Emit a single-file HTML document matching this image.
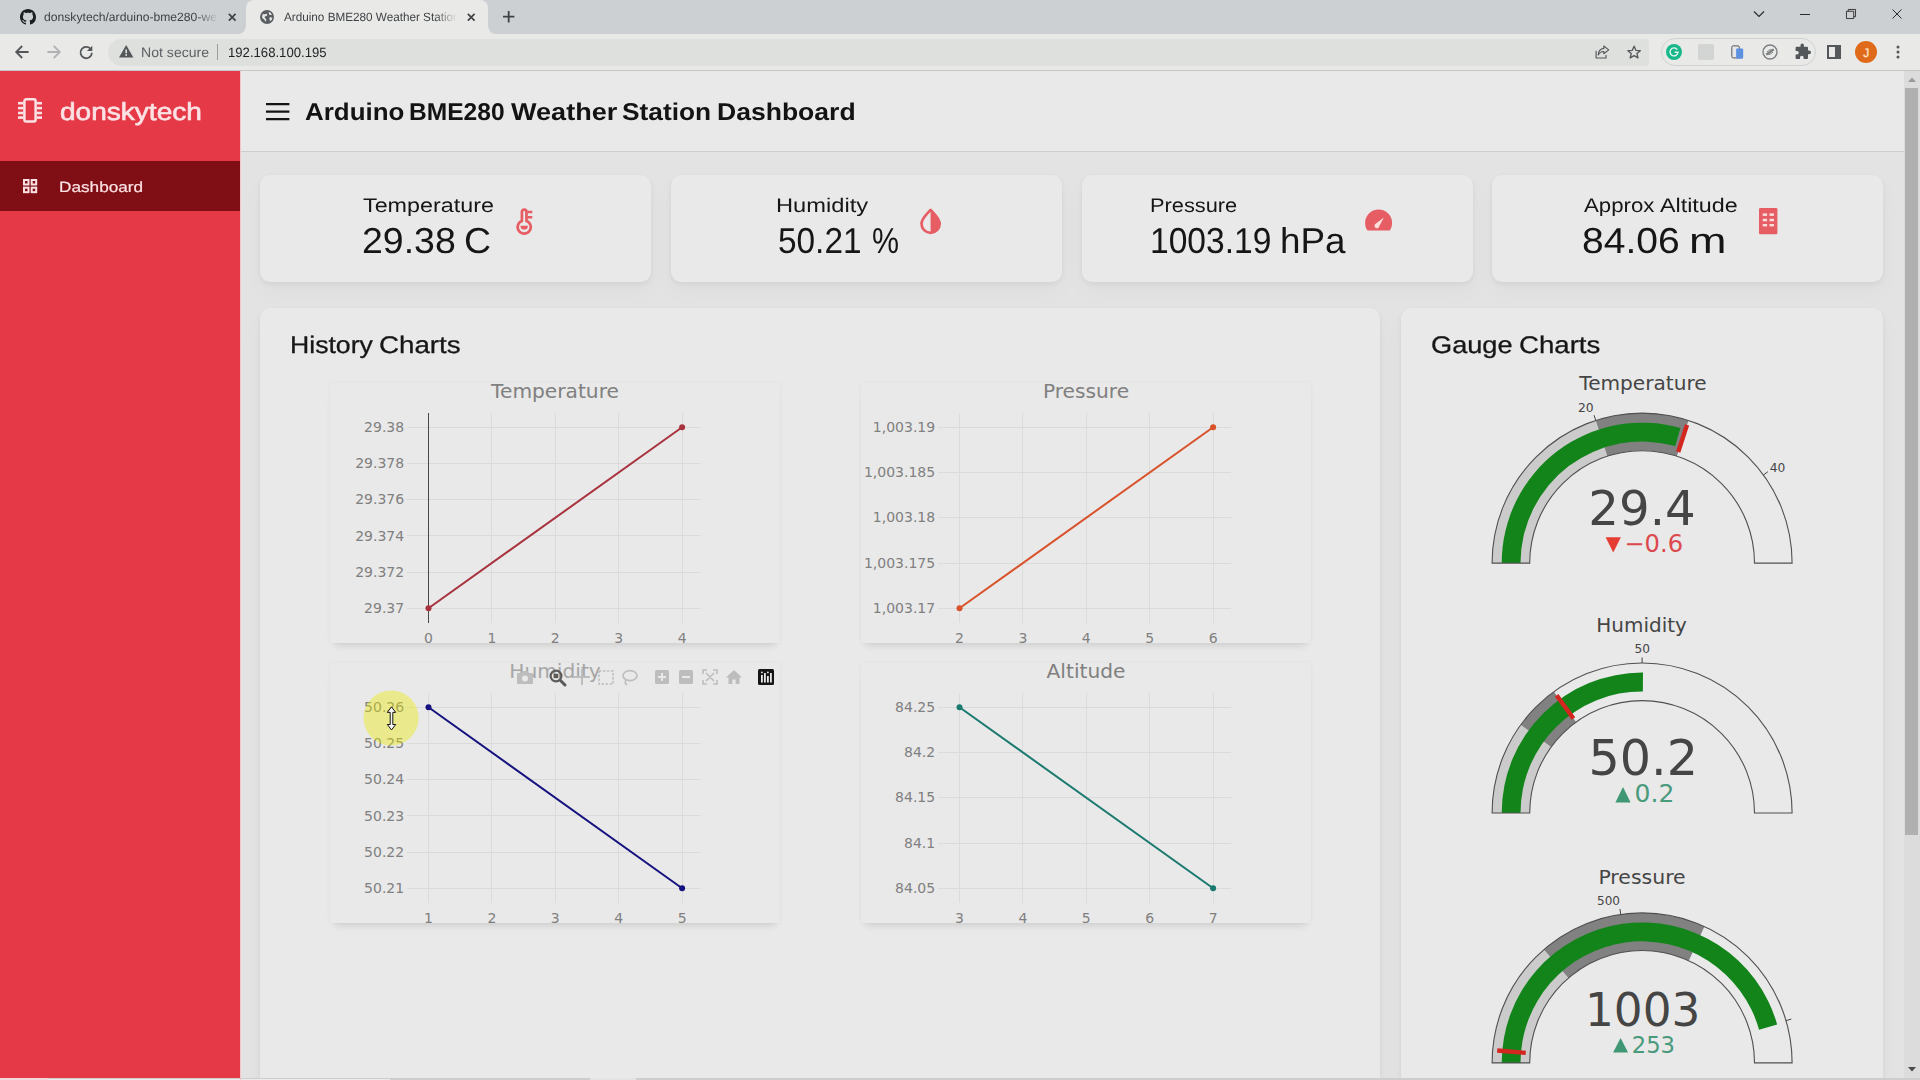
<!DOCTYPE html>
<html lang="en">
<head>
<meta charset="utf-8">
<title>Arduino BME280 Weather Station Dashboard</title>
<style>

*{box-sizing:border-box;margin:0;padding:0}
html,body{width:1920px;height:1080px;overflow:hidden;background:#e3e3e3;font-family:"Liberation Sans",Arial,sans-serif}
.t{position:absolute;white-space:nowrap;transform-origin:0 50%;display:block;font-weight:400}
svg{position:absolute;overflow:visible}
.card,.panel{position:absolute;background:#e9e9e9;border-radius:10px;box-shadow:0 2px 5px rgba(0,0,0,.06),0 10px 24px rgba(0,0,0,.028)}
.chart{position:absolute;background:#e9e9e9;box-shadow:0 7px 8px -5px rgba(0,0,0,.12),0 0 4px rgba(0,0,0,.04)}
svg text{font-family:"DejaVu Sans",Verdana,sans-serif}

</style>
</head>
<body>
<header id="browser-chrome"><div style="position:absolute;left:0px;top:0px;width:1920px;height:34px;background:#cdd0d3"></div>
<div style="position:absolute;left:246px;top:0px;width:242px;height:34px;background:#e9eae8;border-radius:8px 8px 0 0"></div>
<svg style="left:238px;top:26px" width="8" height="8"><path d="M8 0 V8 H0 A8 8 0 0 0 8 0Z" fill="#e9eae8"/></svg>
<svg style="left:488px;top:26px" width="8" height="8"><path d="M0 0 V8 H8 A8 8 0 0 1 0 0Z" fill="#e9eae8"/></svg>
<div style="position:absolute;left:0px;top:34px;width:1920px;height:36px;background:#e9eae8"></div>
<div style="position:absolute;left:0px;top:70px;width:1920px;height:1px;background:#c6c6c8"></div>
<svg style="left:20px;top:9px" width="16" height="16" viewBox="0 0 16 16"><path fill="#1b1f23" d="M8 0C3.58 0 0 3.58 0 8c0 3.54 2.29 6.53 5.47 7.59.4.07.55-.17.55-.38 0-.19-.01-.82-.01-1.49-2.01.37-2.53-.49-2.69-.94-.09-.23-.48-.94-.82-1.13-.28-.15-.68-.52-.01-.53.63-.01 1.08.58 1.23.82.72 1.21 1.87.87 2.33.66.07-.52.28-.87.51-1.07-1.78-.2-3.64-.89-3.64-3.95 0-.87.31-1.59.82-2.15-.08-.2-.36-1.02.08-2.12 0 0 .67-.21 2.2.82.64-.18 1.32-.27 2-.27s1.36.09 2 .27c1.53-1.04 2.2-.82 2.2-.82.44 1.1.16 1.92.08 2.12.51.56.82 1.27.82 2.15 0 3.07-1.87 3.75-3.65 3.95.29.25.54.73.54 1.48 0 1.07-.01 1.93-.01 2.2 0 .21.15.46.55.38A8.01 8.01 0 0 0 16 8c0-4.42-3.58-8-8-8z"/></svg>
<div style="position:absolute;left:44px;top:4px;width:178px;height:26px;overflow:hidden;-webkit-mask-image:linear-gradient(90deg,#000 152px,transparent 174px);mask-image:linear-gradient(90deg,#000 152px,transparent 174px)"><span class="t" style="left:-0.24px;top:5.00px;color:#3f4245;font-size:12px;line-height:16px;font-family:'Liberation Sans',Arial,sans-serif;font-weight:400;text-rendering:geometricPrecision;transform:scaleX(1.0129);">donskytech/arduino-bme280-weather-station</span></div>
<svg style="left:228px;top:13px" width="8.4" height="8.4" viewBox="0 0 10 10"><path d="M1 1 L9 9 M9 1 L1 9" stroke="#3f4245" stroke-width="2" fill="none"/></svg>
<svg style="left:260px;top:10px" width="14" height="14" viewBox="0 0 16 16"><circle cx="8" cy="8" r="8" fill="#5a5e62"/><path d="M3.2 4.2 Q5 5.5 6.6 4.6 Q8.4 3.8 8.2 6 Q7.4 7.2 5.6 7.4 Q4.6 8.8 6.2 9.6 Q7.6 10.4 7 12.6 Q6 13.6 5.4 11.6 Q4.4 10 3 9.6 Q1.8 8 3.2 4.2Z M10.2 2 Q12.6 3.4 13.6 5.4 Q11.6 6.4 10.6 5.2 Q9.6 3.6 10.2 2Z M11 8.4 Q13 8 14.2 9.4 Q13.4 11.8 11.6 12.8 Q10.4 10.4 11 8.4Z" fill="#e9eae8"/></svg>
<div style="position:absolute;left:283px;top:4px;width:178px;height:26px;overflow:hidden;-webkit-mask-image:linear-gradient(90deg,#000 152px,transparent 174px);mask-image:linear-gradient(90deg,#000 152px,transparent 174px)"><span class="t" style="left:0.50px;top:4.80px;color:#3f4245;font-size:12px;line-height:16px;font-family:'Liberation Sans',Arial,sans-serif;font-weight:400;text-rendering:geometricPrecision;transform:scaleX(0.9761);">Arduino BME280 Weather Station Dashboard</span></div>
<svg style="left:467px;top:13px" width="8.4" height="8.4" viewBox="0 0 10 10"><path d="M1 1 L9 9 M9 1 L1 9" stroke="#3f4245" stroke-width="2" fill="none"/></svg>
<svg style="left:503.4px;top:11.3px" width="11.4" height="11.4" viewBox="0 0 12 12"><path d="M6 0 V12 M0 6 H12" stroke="#3f4245" stroke-width="1.9" fill="none"/></svg>
<svg style="left:1753px;top:9px" width="12" height="10" viewBox="0 0 12 10"><path d="M1 2.5 L6 7.5 L11 2.5" stroke="#2b2b2b" stroke-width="1.2" fill="none"/></svg>
<svg style="left:1800px;top:14px" width="10" height="1"><rect width="10" height="1" fill="#2b2b2b"/></svg>
<svg style="left:1846px;top:9px" width="10" height="10" viewBox="0 0 11 11"><path d="M0.5 2.5 H8.5 V10.5 H0.5Z M2.5 2.5 V0.5 H10.5 V8.5 H8.5" stroke="#2b2b2b" stroke-width="1" fill="none"/></svg>
<svg style="left:1892px;top:9px" width="10" height="10" viewBox="0 0 11 11"><path d="M0.5 0.5 L10.5 10.5 M10.5 0.5 L0.5 10.5" stroke="#2b2b2b" stroke-width="1.1" fill="none"/></svg>
<svg style="left:15px;top:45px" width="14" height="14" viewBox="0 0 14 14"><path d="M13.6 7 H2 M7.2 1 L1.2 7 L7.2 13" stroke="#54575a" stroke-width="1.8" fill="none"/></svg>
<svg style="left:47px;top:45px" width="14" height="14" viewBox="0 0 14 14"><path d="M0.4 7 H12 M6.8 1 L12.8 7 L6.8 13" stroke="#b0b2b4" stroke-width="1.8" fill="none"/></svg>
<svg style="left:79px;top:44.6px" width="14.4" height="14.4" viewBox="0 0 16 16"><path d="M13.3 5 A6.3 6.3 0 1 0 14.3 8.6" stroke="#54575a" stroke-width="2" fill="none"/><path d="M14.8 0.8 V6.8 H8.8Z" fill="#54575a"/></svg>
<div style="position:absolute;left:108px;top:38.5px;width:1540.5px;height:27px;background:#dee0de;border-radius:13.5px 4px 4px 13.5px"></div>
<svg style="left:118.8px;top:45.4px" width="14.4" height="12.6" viewBox="0 0 16 14"><path d="M8 0 L16 14 H0Z" fill="#54575a"/><rect x="7.1" y="5" width="1.8" height="4.2" fill="#dee0de"/><rect x="7.1" y="10.2" width="1.8" height="1.9" fill="#dee0de"/></svg>
<span class="t" style="left:141.47px;top:43.60px;color:#5d6064;font-size:13.7px;line-height:18px;font-family:'Liberation Sans',Arial,sans-serif;font-weight:400;text-rendering:geometricPrecision;transform:scaleX(1.0294);">Not secure</span>
<div style="position:absolute;left:217px;top:44px;width:1px;height:16px;background:#9c9e9f"></div>
<span class="t" style="left:227.78px;top:43.60px;color:#222426;font-size:13.5px;line-height:18px;font-family:'Liberation Sans',Arial,sans-serif;font-weight:400;text-rendering:geometricPrecision;transform:scaleX(0.9725);">192.168.100.195</span>
<svg style="left:1594.8px;top:45.2px" width="15" height="14" viewBox="0 0 17 16"><path d="M1.2 6.5 V14.8 H12.5 V11.5" stroke="#54575a" stroke-width="1.3" fill="none"/><path d="M10 1.2 L15.6 5.6 L10 10 V7.4 Q6 7.2 3.6 11.4 Q4.2 4.6 10 3.9Z" stroke="#54575a" stroke-width="1.3" fill="none" stroke-linejoin="round"/></svg>
<svg style="left:1627px;top:44.8px" width="14.2" height="14.2" viewBox="0 0 16 16"><path d="M8 1.3 L10 6 L15 6.4 L11.2 9.7 L12.4 14.6 L8 12 L3.6 14.6 L4.8 9.7 L1 6.4 L6 6Z" stroke="#54575a" stroke-width="1.5" fill="none" stroke-linejoin="round"/></svg>
<div style="position:absolute;left:1661px;top:38px;width:155px;height:28px;border:1px solid #d0d2d2;border-radius:14px;background:#e9eae8"></div>
<svg style="left:1666px;top:44px" width="16" height="16" viewBox="0 0 16 16"><circle cx="8" cy="8" r="8" fill="#18b88a"/><path d="M11.3 5.6 A4 4 0 1 0 12 8.3 H8.6" stroke="#e9f6f1" stroke-width="1.4" fill="none"/></svg>
<div style="position:absolute;left:1698px;top:44px;width:16px;height:16px;background:#d3d4d4;border-radius:2px"></div>
<svg style="left:1731.4px;top:43.8px" width="13.2" height="16.6" viewBox="0 0 16 18"><rect x="1" y="1.2" width="9" height="14.6" rx="1.6" fill="#e4e6e8" stroke="#55585c" stroke-width="1.2"/><rect x="6.2" y="4.4" width="8.6" height="12.4" rx="1.4" fill="#5d90e0"/></svg>
<svg style="left:1762px;top:44px" width="16" height="16" viewBox="0 0 16 16"><circle cx="8" cy="8" r="7" stroke="#7b7e81" stroke-width="1.4" fill="none"/><path d="M4.2 10.6 L11.8 5.4" stroke="#7b7e81" stroke-width="2" /><path d="M5 8 Q8 4.4 11 6 M5 10 Q8 11.6 11 8" stroke="#7b7e81" stroke-width="1" fill="none"/></svg>
<svg style="left:1794px;top:44px" width="17" height="16" viewBox="0 0 17 16"><path d="M6.5 1.2 a1.7 1.7 0 0 1 3.4 0 V2.8 H13 a1 1 0 0 1 1 1 V6.6 h1.2 a1.8 1.8 0 0 1 0 3.6 H14 V14 a1 1 0 0 1 -1 1 H9.6 V13.6 a1.8 1.8 0 0 0 -3.6 0 V15 H2.6 a1 1 0 0 1 -1 -1 V10.6 H3 a1.8 1.8 0 0 0 0 -3.6 H1.6 V3.8 a1 1 0 0 1 1 -1 H6.5Z" fill="#54575a"/></svg>
<svg style="left:1827px;top:45px" width="14" height="14" viewBox="0 0 14 14"><rect x="1" y="1" width="12" height="12" stroke="#54575a" stroke-width="2" fill="none"/><rect x="8" y="1" width="5" height="12" fill="#54575a"/></svg>
<div style="position:absolute;left:1855px;top:41px;width:22px;height:22px;background:#df6b1a;border-radius:50%"><span class="t" style="left:8.22px;top:3.55px;color:#fbdcbc;font-size:12px;line-height:16px;font-family:'Liberation Sans',Arial,sans-serif;font-weight:400;text-rendering:geometricPrecision;-webkit-text-stroke:0.5px #fbdcbc;">J</span></div>
<svg style="left:1896px;top:45px" width="4" height="14" viewBox="0 0 4 14"><circle cx="2" cy="2" r="1.5" fill="#54575a"/><circle cx="2" cy="7" r="1.5" fill="#54575a"/><circle cx="2" cy="12" r="1.5" fill="#54575a"/></svg></header>
<aside id="sidebar"><div style="position:absolute;left:0px;top:71px;width:240px;height:1009px;background:#e53947"></div>
<div style="position:absolute;left:0px;top:161px;width:240px;height:50px;background:#800e15"></div>
<svg style="left:17.8px;top:98.2px" width="24" height="24.8" viewBox="0 0 24 24.8"><rect x="6.4" y="1.25" width="11.2" height="22.3" rx="1.8" stroke="#fbe2e4" stroke-width="2.5" fill="none"/><g fill="#fbe2e4"><rect x="0" y="3.9" width="5.4" height="2.6"/><rect x="0" y="8.8" width="5.4" height="2.6"/><rect x="0" y="13.7" width="5.4" height="2.6"/><rect x="0" y="18.3" width="5.4" height="2.6"/><rect x="18.6" y="3.9" width="5.4" height="2.6"/><rect x="18.6" y="8.8" width="5.4" height="2.6"/><rect x="18.6" y="13.7" width="5.4" height="2.6"/><rect x="18.6" y="18.3" width="5.4" height="2.6"/></g></svg>
<div class="t" style="left:59.65px;top:96.85px;color:#fbe2e4;font-size:24.6px;line-height:32px;font-family:'Liberation Sans',Arial,sans-serif;font-weight:400;text-rendering:geometricPrecision;-webkit-text-stroke:0.65px #fbe2e4;transform:scaleX(1.1404);">donskytech</div>
<svg style="left:22.9px;top:178.8px" width="14.2" height="14.2" viewBox="0 0 14.2 14.2"><g stroke="#fbe2e4" stroke-width="2" fill="none"><rect x="1" y="1" width="4.5" height="4.5"/><rect x="8.7" y="1" width="4.5" height="4.5"/><rect x="1" y="8.7" width="4.5" height="4.5"/><rect x="8.7" y="8.7" width="4.5" height="4.5"/></g></svg>
<div class="t" style="left:59.24px;top:178.10px;color:#fbe2e4;font-size:14.8px;line-height:20px;font-family:'Liberation Sans',Arial,sans-serif;font-weight:400;text-rendering:geometricPrecision;-webkit-text-stroke:0.2px #fbe2e4;transform:scaleX(1.1620);">Dashboard</div></aside>
<nav id="topbar"><div style="position:absolute;left:240px;top:71px;width:1664px;height:81px;background:#e9e9e9;border-bottom:1px solid #cdcdcd"></div>
<svg style="left:265.8px;top:103px" width="23.4" height="17.4" viewBox="0 0 23.4 17.4"><path d="M0 1.2 H23.4 M0 8.7 H23.4 M0 16.2 H23.4" stroke="#151515" stroke-width="2.3"/></svg>
<h1><span class="t" style="left:304.95px;top:97.20px;color:#131313;font-size:24.3px;line-height:32px;font-family:'Liberation Sans',Arial,sans-serif;font-weight:700;text-rendering:geometricPrecision;transform:scaleX(1.0678);">Arduino</span> <span class="t" style="left:409.15px;top:97.20px;color:#131313;font-size:24.3px;line-height:32px;font-family:'Liberation Sans',Arial,sans-serif;font-weight:700;text-rendering:geometricPrecision;transform:scaleX(1.0115);">BME280</span> <span class="t" style="left:510.80px;top:97.20px;color:#131313;font-size:24.3px;line-height:32px;font-family:'Liberation Sans',Arial,sans-serif;font-weight:700;text-rendering:geometricPrecision;transform:scaleX(1.1136);">Weather</span> <span class="t" style="left:622.29px;top:97.20px;color:#131313;font-size:24.3px;line-height:32px;font-family:'Liberation Sans',Arial,sans-serif;font-weight:700;text-rendering:geometricPrecision;transform:scaleX(1.0828);">Station</span> <span class="t" style="left:716.52px;top:97.20px;color:#131313;font-size:24.3px;line-height:32px;font-family:'Liberation Sans',Arial,sans-serif;font-weight:700;text-rendering:geometricPrecision;transform:scaleX(1.0925);">Dashboard</span></h1></nav>
<section id="cards"><div class="card" style="position:absolute;left:260px;top:175.4px;width:391px;height:106.5px;"></div>
<div class="card" style="position:absolute;left:671px;top:175.4px;width:391px;height:106.5px;"></div>
<div class="card" style="position:absolute;left:1082px;top:175.4px;width:391px;height:106.5px;"></div>
<div class="card" style="position:absolute;left:1492px;top:175.4px;width:391px;height:106.5px;"></div>
<span class="t" style="left:362.90px;top:192.80px;color:#161616;font-size:19.8px;line-height:26px;font-family:'Liberation Sans',Arial,sans-serif;font-weight:400;text-rendering:geometricPrecision;transform:scaleX(1.1784);">Temperature</span>
<span class="t" style="left:361.51px;top:216.90px;color:#161616;font-size:36px;line-height:47px;font-family:'Liberation Sans',Arial,sans-serif;font-weight:400;text-rendering:geometricPrecision;transform:scaleX(1.0409);">29.38</span><span class="t" style="left:464.38px;top:216.90px;color:#161616;font-size:36px;line-height:47px;font-family:'Liberation Sans',Arial,sans-serif;font-weight:400;text-rendering:geometricPrecision;transform:scaleX(1.0418);">C</span>
<svg style="left:515.8px;top:207.8px" width="17" height="26.2" viewBox="0 0 17 26.2"><path d="M5.9 12.9 V3.85 a2.3 2.3 0 0 1 4.6 0 V12.9 a6.55 6.55 0 1 1 -4.6 0Z" stroke="#e65d64" stroke-width="2.7" fill="none"/><path d="M4.5 17.7 a3.7 3.9 0 0 0 7.4 0Z" fill="#e65d64"/><path d="M11.4 4.05 H16.3 M11.4 9.2 H16.3" stroke="#e65d64" stroke-width="2.5"/></svg>
<span class="t" style="left:775.95px;top:192.80px;color:#161616;font-size:19.8px;line-height:26px;font-family:'Liberation Sans',Arial,sans-serif;font-weight:400;text-rendering:geometricPrecision;transform:scaleX(1.1972);">Humidity</span>
<span class="t" style="left:777.78px;top:216.90px;color:#161616;font-size:36px;line-height:47px;font-family:'Liberation Sans',Arial,sans-serif;font-weight:400;text-rendering:geometricPrecision;transform:scaleX(0.9270);">50.21</span><span class="t" style="left:872.06px;top:216.90px;color:#161616;font-size:36px;line-height:47px;font-family:'Liberation Sans',Arial,sans-serif;font-weight:400;text-rendering:geometricPrecision;transform:scaleX(0.8433);">%</span>
<svg style="left:919.9px;top:207.8px" width="21.4" height="26.2" viewBox="0 0 21.4 26.2"><path d="M10.6 1.9 C 7.6 5.2, 1.5 10.6, 1.5 15.6 A 9.1 9.2 0 0 0 19.7 15.6 C 19.7 10.6, 13.6 5.2, 10.6 1.9Z" stroke="#e65d64" stroke-width="2.7" fill="none" stroke-linejoin="round"/><path d="M10.6 1.9 C 13.6 5.2, 19.7 10.6, 19.7 15.6 A 9.1 9.2 0 0 1 10.6 24.8Z" fill="#e65d64"/></svg>
<span class="t" style="left:1150.11px;top:192.80px;color:#161616;font-size:19.8px;line-height:26px;font-family:'Liberation Sans',Arial,sans-serif;font-weight:400;text-rendering:geometricPrecision;transform:scaleX(1.1019);">Pressure</span>
<span class="t" style="left:1149.64px;top:216.90px;color:#161616;font-size:36px;line-height:47px;font-family:'Liberation Sans',Arial,sans-serif;font-weight:400;text-rendering:geometricPrecision;transform:scaleX(0.9328);">1003.19</span><span class="t" style="left:1280.33px;top:216.90px;color:#161616;font-size:36px;line-height:47px;font-family:'Liberation Sans',Arial,sans-serif;font-weight:400;text-rendering:geometricPrecision;transform:scaleX(1.0227);">hPa</span>
<svg style="left:1364.8px;top:210px" width="27.2" height="20.4" viewBox="0 0 27.2 20.4"><path d="M2.2 20.3 A13.5 13.5 0 1 1 25 20.3 a1.4 1.4 0 0 1 -1 0.1 H3.2 a1.4 1.4 0 0 1 -1 -0.1Z" fill="#e65d64"/><path d="M18.9 7.6 L14.3 16.2 A2.4 2.4 0 1 1 11 13.6Z" fill="#fbdedc"/></svg>
<span class="t" style="left:1583.50px;top:192.80px;color:#161616;font-size:19.8px;line-height:26px;font-family:'Liberation Sans',Arial,sans-serif;font-weight:400;text-rendering:geometricPrecision;transform:scaleX(1.1237);">Approx</span><span class="t" style="left:1660.00px;top:192.80px;color:#161616;font-size:19.8px;line-height:26px;font-family:'Liberation Sans',Arial,sans-serif;font-weight:400;text-rendering:geometricPrecision;transform:scaleX(1.1773);">Altitude</span>
<span class="t" style="left:1582.43px;top:216.90px;color:#161616;font-size:36px;line-height:47px;font-family:'Liberation Sans',Arial,sans-serif;font-weight:400;text-rendering:geometricPrecision;transform:scaleX(1.0849);">84.06</span><span class="t" style="left:1689.40px;top:216.90px;color:#161616;font-size:36px;line-height:47px;font-family:'Liberation Sans',Arial,sans-serif;font-weight:400;text-rendering:geometricPrecision;transform:scaleX(1.2500);">m</span>
<svg style="left:1758.6px;top:207.8px" width="18.4" height="26.2" viewBox="0 0 18.4 26.2"><rect x="0" y="0" width="18.4" height="26.2" rx="1.2" fill="#e65d64"/><g fill="#fbdedc"><rect x="3.7" y="5.4" width="4.4" height="2.5"/><rect x="10.5" y="5.4" width="4.5" height="2.5"/><rect x="3.7" y="10.8" width="4.4" height="2.5"/><rect x="10.5" y="10.8" width="4.5" height="2.5"/><rect x="3.7" y="16" width="4.4" height="2.4"/><rect x="10.5" y="16" width="4.5" height="2.4"/></g></svg></section>
<section id="history"><div class="panel" style="position:absolute;left:260px;top:307.8px;width:1120px;height:800px;"></div>
<h2><span class="t" style="left:289.52px;top:330.35px;color:#161616;font-size:24px;line-height:32px;font-family:'Liberation Sans',Arial,sans-serif;font-weight:400;text-rendering:geometricPrecision;-webkit-text-stroke:0.3px #161616;transform:scaleX(1.1091);">History</span> <span class="t" style="left:379.34px;top:330.35px;color:#161616;font-size:24px;line-height:32px;font-family:'Liberation Sans',Arial,sans-serif;font-weight:400;text-rendering:geometricPrecision;-webkit-text-stroke:0.3px #161616;transform:scaleX(1.1551);">Charts</span></h2>
<div class="chart" id="chart-temperature" style="left:330px;top:383px;width:450px;height:260px">
<svg width="450" height="260" viewBox="0 0 450 260" style="left:0;top:0">
<path d="M161.50 30 V240" stroke="#dbdbdb" stroke-width="1" fill="none" shape-rendering="crispEdges"/>
<path d="M225.50 30 V240" stroke="#dbdbdb" stroke-width="1" fill="none" shape-rendering="crispEdges"/>
<path d="M288.50 30 V240" stroke="#dbdbdb" stroke-width="1" fill="none" shape-rendering="crispEdges"/>
<path d="M352.50 30 V240" stroke="#dbdbdb" stroke-width="1" fill="none" shape-rendering="crispEdges"/>
<path d="M77 44.50 H370" stroke="#dbdbdb" stroke-width="1" fill="none" shape-rendering="crispEdges"/>
<path d="M77 80.50 H370" stroke="#dbdbdb" stroke-width="1" fill="none" shape-rendering="crispEdges"/>
<path d="M77 116.50 H370" stroke="#dbdbdb" stroke-width="1" fill="none" shape-rendering="crispEdges"/>
<path d="M77 152.50 H370" stroke="#dbdbdb" stroke-width="1" fill="none" shape-rendering="crispEdges"/>
<path d="M77 189.50 H370" stroke="#dbdbdb" stroke-width="1" fill="none" shape-rendering="crispEdges"/>
<path d="M77 225.50 H370" stroke="#dbdbdb" stroke-width="1" fill="none" shape-rendering="crispEdges"/>
<path d="M98.50 30 V240" stroke="#484848" stroke-width="1" fill="none" shape-rendering="crispEdges"/>
<path d="M98.50 225.30 L352.10 44.20" stroke="#a8323e" stroke-width="2" fill="none"/>
<circle cx="98.50" cy="225.30" r="3" fill="#a8323e"/>
<circle cx="352.10" cy="44.20" r="3" fill="#a8323e"/>
<text x="98.50" y="259.6" font-size="14" fill="#808080" text-anchor="middle">0</text>
<text x="161.90" y="259.6" font-size="14" fill="#808080" text-anchor="middle">1</text>
<text x="225.30" y="259.6" font-size="14" fill="#808080" text-anchor="middle">2</text>
<text x="288.70" y="259.6" font-size="14" fill="#808080" text-anchor="middle">3</text>
<text x="352.10" y="259.6" font-size="14" fill="#808080" text-anchor="middle">4</text>
<text x="74.2" y="48.90" font-size="14" fill="#808080" text-anchor="end">29.38</text>
<text x="74.2" y="85.12" font-size="14" fill="#808080" text-anchor="end">29.378</text>
<text x="74.2" y="121.34" font-size="14" fill="#808080" text-anchor="end">29.376</text>
<text x="74.2" y="157.56" font-size="14" fill="#808080" text-anchor="end">29.374</text>
<text x="74.2" y="193.78" font-size="14" fill="#808080" text-anchor="end">29.372</text>
<text x="74.2" y="230.00" font-size="14" fill="#808080" text-anchor="end">29.37</text>
<text x="225" y="14.7" font-size="20.2" fill="#808080" text-anchor="middle">Temperature</text>
</svg></div>
<div class="chart" id="chart-pressure" style="left:861px;top:383px;width:450px;height:260px">
<svg width="450" height="260" viewBox="0 0 450 260" style="left:0;top:0">
<path d="M98.50 30 V240" stroke="#dbdbdb" stroke-width="1" fill="none" shape-rendering="crispEdges"/>
<path d="M161.50 30 V240" stroke="#dbdbdb" stroke-width="1" fill="none" shape-rendering="crispEdges"/>
<path d="M225.50 30 V240" stroke="#dbdbdb" stroke-width="1" fill="none" shape-rendering="crispEdges"/>
<path d="M288.50 30 V240" stroke="#dbdbdb" stroke-width="1" fill="none" shape-rendering="crispEdges"/>
<path d="M352.50 30 V240" stroke="#dbdbdb" stroke-width="1" fill="none" shape-rendering="crispEdges"/>
<path d="M77 44.50 H370" stroke="#dbdbdb" stroke-width="1" fill="none" shape-rendering="crispEdges"/>
<path d="M77 89.50 H370" stroke="#dbdbdb" stroke-width="1" fill="none" shape-rendering="crispEdges"/>
<path d="M77 134.50 H370" stroke="#dbdbdb" stroke-width="1" fill="none" shape-rendering="crispEdges"/>
<path d="M77 180.50 H370" stroke="#dbdbdb" stroke-width="1" fill="none" shape-rendering="crispEdges"/>
<path d="M77 225.50 H370" stroke="#dbdbdb" stroke-width="1" fill="none" shape-rendering="crispEdges"/>
<path d="M98.50 225.30 L352.10 44.20" stroke="#d8522a" stroke-width="2" fill="none"/>
<circle cx="98.50" cy="225.30" r="3" fill="#d8522a"/>
<circle cx="352.10" cy="44.20" r="3" fill="#d8522a"/>
<text x="98.50" y="259.6" font-size="14" fill="#808080" text-anchor="middle">2</text>
<text x="161.90" y="259.6" font-size="14" fill="#808080" text-anchor="middle">3</text>
<text x="225.30" y="259.6" font-size="14" fill="#808080" text-anchor="middle">4</text>
<text x="288.70" y="259.6" font-size="14" fill="#808080" text-anchor="middle">5</text>
<text x="352.10" y="259.6" font-size="14" fill="#808080" text-anchor="middle">6</text>
<text x="74.2" y="48.90" font-size="14" fill="#808080" text-anchor="end">1,003.19</text>
<text x="74.2" y="94.18" font-size="14" fill="#808080" text-anchor="end">1,003.185</text>
<text x="74.2" y="139.45" font-size="14" fill="#808080" text-anchor="end">1,003.18</text>
<text x="74.2" y="184.73" font-size="14" fill="#808080" text-anchor="end">1,003.175</text>
<text x="74.2" y="230.00" font-size="14" fill="#808080" text-anchor="end">1,003.17</text>
<text x="225" y="14.7" font-size="20.2" fill="#808080" text-anchor="middle">Pressure</text>
</svg></div>
<div class="chart" id="chart-humidity" style="left:330px;top:663px;width:450px;height:260px">
<svg width="450" height="260" viewBox="0 0 450 260" style="left:0;top:0">
<path d="M98.50 30 V240" stroke="#dbdbdb" stroke-width="1" fill="none" shape-rendering="crispEdges"/>
<path d="M161.50 30 V240" stroke="#dbdbdb" stroke-width="1" fill="none" shape-rendering="crispEdges"/>
<path d="M225.50 30 V240" stroke="#dbdbdb" stroke-width="1" fill="none" shape-rendering="crispEdges"/>
<path d="M288.50 30 V240" stroke="#dbdbdb" stroke-width="1" fill="none" shape-rendering="crispEdges"/>
<path d="M352.50 30 V240" stroke="#dbdbdb" stroke-width="1" fill="none" shape-rendering="crispEdges"/>
<path d="M77 44.50 H370" stroke="#dbdbdb" stroke-width="1" fill="none" shape-rendering="crispEdges"/>
<path d="M77 80.50 H370" stroke="#dbdbdb" stroke-width="1" fill="none" shape-rendering="crispEdges"/>
<path d="M77 116.50 H370" stroke="#dbdbdb" stroke-width="1" fill="none" shape-rendering="crispEdges"/>
<path d="M77 152.50 H370" stroke="#dbdbdb" stroke-width="1" fill="none" shape-rendering="crispEdges"/>
<path d="M77 189.50 H370" stroke="#dbdbdb" stroke-width="1" fill="none" shape-rendering="crispEdges"/>
<path d="M77 225.50 H370" stroke="#dbdbdb" stroke-width="1" fill="none" shape-rendering="crispEdges"/>
<path d="M98.50 44.20 L352.10 225.30" stroke="#15127f" stroke-width="2" fill="none"/>
<circle cx="98.50" cy="44.20" r="3" fill="#15127f"/>
<circle cx="352.10" cy="225.30" r="3" fill="#15127f"/>
<text x="98.50" y="259.6" font-size="14" fill="#808080" text-anchor="middle">1</text>
<text x="161.90" y="259.6" font-size="14" fill="#808080" text-anchor="middle">2</text>
<text x="225.30" y="259.6" font-size="14" fill="#808080" text-anchor="middle">3</text>
<text x="288.70" y="259.6" font-size="14" fill="#808080" text-anchor="middle">4</text>
<text x="352.10" y="259.6" font-size="14" fill="#808080" text-anchor="middle">5</text>
<text x="74.2" y="48.90" font-size="14" fill="#808080" text-anchor="end">50.26</text>
<text x="74.2" y="85.12" font-size="14" fill="#808080" text-anchor="end">50.25</text>
<text x="74.2" y="121.34" font-size="14" fill="#808080" text-anchor="end">50.24</text>
<text x="74.2" y="157.56" font-size="14" fill="#808080" text-anchor="end">50.23</text>
<text x="74.2" y="193.78" font-size="14" fill="#808080" text-anchor="end">50.22</text>
<text x="74.2" y="230.00" font-size="14" fill="#808080" text-anchor="end">50.21</text>
<text x="225" y="14.7" font-size="20.2" fill="#a6a6a6" text-anchor="middle">Humidity</text>
</svg></div>
<div class="chart" id="chart-altitude" style="left:861px;top:663px;width:450px;height:260px">
<svg width="450" height="260" viewBox="0 0 450 260" style="left:0;top:0">
<path d="M98.50 30 V240" stroke="#dbdbdb" stroke-width="1" fill="none" shape-rendering="crispEdges"/>
<path d="M161.50 30 V240" stroke="#dbdbdb" stroke-width="1" fill="none" shape-rendering="crispEdges"/>
<path d="M225.50 30 V240" stroke="#dbdbdb" stroke-width="1" fill="none" shape-rendering="crispEdges"/>
<path d="M288.50 30 V240" stroke="#dbdbdb" stroke-width="1" fill="none" shape-rendering="crispEdges"/>
<path d="M352.50 30 V240" stroke="#dbdbdb" stroke-width="1" fill="none" shape-rendering="crispEdges"/>
<path d="M77 44.50 H370" stroke="#dbdbdb" stroke-width="1" fill="none" shape-rendering="crispEdges"/>
<path d="M77 89.50 H370" stroke="#dbdbdb" stroke-width="1" fill="none" shape-rendering="crispEdges"/>
<path d="M77 134.50 H370" stroke="#dbdbdb" stroke-width="1" fill="none" shape-rendering="crispEdges"/>
<path d="M77 180.50 H370" stroke="#dbdbdb" stroke-width="1" fill="none" shape-rendering="crispEdges"/>
<path d="M77 225.50 H370" stroke="#dbdbdb" stroke-width="1" fill="none" shape-rendering="crispEdges"/>
<path d="M98.50 44.20 L352.10 225.30" stroke="#1a7a70" stroke-width="2" fill="none"/>
<circle cx="98.50" cy="44.20" r="3" fill="#1a7a70"/>
<circle cx="352.10" cy="225.30" r="3" fill="#1a7a70"/>
<text x="98.50" y="259.6" font-size="14" fill="#808080" text-anchor="middle">3</text>
<text x="161.90" y="259.6" font-size="14" fill="#808080" text-anchor="middle">4</text>
<text x="225.30" y="259.6" font-size="14" fill="#808080" text-anchor="middle">5</text>
<text x="288.70" y="259.6" font-size="14" fill="#808080" text-anchor="middle">6</text>
<text x="352.10" y="259.6" font-size="14" fill="#808080" text-anchor="middle">7</text>
<text x="74.2" y="48.90" font-size="14" fill="#808080" text-anchor="end">84.25</text>
<text x="74.2" y="94.18" font-size="14" fill="#808080" text-anchor="end">84.2</text>
<text x="74.2" y="139.45" font-size="14" fill="#808080" text-anchor="end">84.15</text>
<text x="74.2" y="184.73" font-size="14" fill="#808080" text-anchor="end">84.1</text>
<text x="74.2" y="230.00" font-size="14" fill="#808080" text-anchor="end">84.05</text>
<text x="225" y="14.7" font-size="20.2" fill="#808080" text-anchor="middle">Altitude</text>
</svg></div>
<svg style="left:514px;top:668px" width="264" height="18" viewBox="0 0 264 18">
<g fill="#bdbdbd"><path d="M4 5 h3 l1.5 -2 h5 l1.5 2 h3 a1 1 0 0 1 1 1 v9 a1 1 0 0 1 -1 1 h-14 a1 1 0 0 1 -1 -1 v-9 a1 1 0 0 1 1 -1z"/></g><circle cx="11" cy="10.5" r="3" fill="#e9e9e9"/>
<circle cx="42" cy="8" r="5.4" stroke="#5a5a5a" stroke-width="2.2" fill="none"/><path d="M46 12 L51 17" stroke="#5a5a5a" stroke-width="3" stroke-linecap="round"/><rect x="39.8" y="5.8" width="4.4" height="4.4" fill="#5a5a5a"/>
<path d="M68 1 V17 M60 9 H76" stroke="#bdbdbd" stroke-width="2"/>
<rect x="85" y="3" width="14" height="13" stroke="#bdbdbd" stroke-width="1.6" stroke-dasharray="2.4 1.6" fill="none"/>
<ellipse cx="116" cy="7.6" rx="7" ry="5" stroke="#bdbdbd" stroke-width="1.6" fill="none"/><path d="M112 12 q-2 3 1 5" stroke="#bdbdbd" stroke-width="1.6" fill="none"/>
<rect x="141" y="2" width="14" height="14" rx="1.5" fill="#bdbdbd"/><path d="M148 5 V13 M144 9 H152" stroke="#e9e9e9" stroke-width="2"/>
<rect x="165" y="2" width="14" height="14" rx="1.5" fill="#bdbdbd"/><path d="M168 9 H176" stroke="#e9e9e9" stroke-width="2"/>
<path d="M189 6 V2 H193 M199 2 H203 V6 M203 12 V16 H199 M193 16 H189 V12 M192 5 L200 13 M200 5 L192 13" stroke="#bdbdbd" stroke-width="1.6" fill="none"/>
<path d="M220 2 L212 9.5 H214.5 V16 H218.4 V11.6 H221.6 V16 H225.5 V9.5 H228Z" fill="#bdbdbd"/>
<rect x="244" y="1" width="16" height="16" rx="1.5" fill="#151515"/><g fill="#e9e9e9"><rect x="247" y="7" width="1.8" height="7.5"/><rect x="250" y="5" width="1.8" height="9.5"/><rect x="253" y="8" width="1.8" height="6.5"/><rect x="256" y="5" width="1.8" height="9.5"/><circle cx="247.9" cy="4.4" r="0.9"/><circle cx="253.9" cy="4.4" r="0.9"/></g>
</svg>
<svg id="cursor" style="left:0;top:0" width="1920" height="1080" viewBox="0 0 1920 1080"><circle cx="391.1" cy="718" r="27.6" fill="#ebeb00" fill-opacity="0.4"/><path d="M391.5 706.9 L395.7 712.4 H392.8 V724.5 H395.7 L391.5 730 L387.3 724.5 H390.2 V712.4 H387.3Z" fill="#f6f6f6" stroke="#151515" stroke-width="1" stroke-linejoin="miter"/></svg></section>
<section id="gauges"><div class="panel" style="position:absolute;left:1401px;top:307.8px;width:482px;height:800px;"></div>
<h2><span class="t" style="left:1431.17px;top:330.35px;color:#161616;font-size:24px;line-height:32px;font-family:'Liberation Sans',Arial,sans-serif;font-weight:400;text-rendering:geometricPrecision;-webkit-text-stroke:0.3px #161616;transform:scaleX(1.1319);">Gauge</span> <span class="t" style="left:1518.65px;top:330.35px;color:#161616;font-size:24px;line-height:32px;font-family:'Liberation Sans',Arial,sans-serif;font-weight:400;text-rendering:geometricPrecision;-webkit-text-stroke:0.3px #161616;transform:scaleX(1.1507);">Charts</span></h2>
<svg id="gauge-temperature" style="left:0;top:0" width="1920" height="1080" viewBox="0 0 1920 1080">
<path d="M1492.10 563.10 A150 150 0 0 1 1792.10 563.10 L1754.50 563.10 A112.4 112.4 0 0 0 1529.70 563.10 Z" fill="#e9e9e9"/>
<path d="M1492.10 563.10 A150 150 0 0 1 1595.75 420.44 L1607.37 456.20 A112.4 112.4 0 0 0 1529.70 563.10 Z" fill="#cbcbcc"/>
<path d="M1595.75 420.44 A150 150 0 0 1 1688.45 420.44 L1676.83 456.20 A112.4 112.4 0 0 0 1607.37 456.20 Z" fill="#818181"/>
<path d="M1501.70 563.10 A140.4 140.4 0 0 1 1680.42 428.03 L1675.29 446.12 A121.6 121.6 0 0 0 1520.50 563.10 Z" fill="#13841a"/>
<path d="M1678.19 452.02 L1687.03 424.82" stroke="#d3261f" stroke-width="4.4"/>
<path d="M1492.10 563.10 A150 150 0 0 1 1792.10 563.10 L1754.50 563.10 A112.4 112.4 0 0 0 1529.70 563.10 Z" fill="none" stroke="#505050" stroke-width="1.1"/>
<path d="M1595.75 420.44 L1594.05 415.21" stroke="#444" stroke-width="1"/>
<text x="1577.91" y="411.80" font-size="12.00" fill="#454545" textLength="15.70" lengthAdjust="spacingAndGlyphs">20</text>
<path d="M1763.45 474.93 L1767.90 471.70" stroke="#444" stroke-width="1"/>
<text x="1769.72" y="471.70" font-size="12.00" fill="#454545" textLength="15.58" lengthAdjust="spacingAndGlyphs">40</text>
<text x="1579.30" y="390.40" font-size="20.00" fill="#454545" textLength="127.35" lengthAdjust="spacingAndGlyphs">Temperature</text>
<text x="1588.30" y="525.10" font-size="48.24" fill="#454545">29.4</text>
<path d="M1605.60 537.30 L1613.25 552.40 L1620.90 537.30Z" fill="#e63d33"/>
<text x="1624.36" y="552.40" font-size="24.18" fill="#dc484d">−0.6</text>
</svg>
<svg id="gauge-humidity" style="left:0;top:0" width="1920" height="1080" viewBox="0 0 1920 1080">
<path d="M1492.10 813.00 A150 150 0 0 1 1792.10 813.00 L1754.50 813.00 A112.4 112.4 0 0 0 1529.70 813.00 Z" fill="#e9e9e9"/>
<path d="M1492.10 813.00 A150 150 0 0 1 1520.75 724.83 L1551.17 746.93 A112.4 112.4 0 0 0 1529.70 813.00 Z" fill="#cbcbcc"/>
<path d="M1520.75 724.83 A150 150 0 0 1 1553.93 691.65 L1576.03 722.07 A112.4 112.4 0 0 0 1551.17 746.93 Z" fill="#818181"/>
<path d="M1501.70 813.00 A140.4 140.4 0 0 1 1642.98 672.60 L1642.86 691.40 A121.6 121.6 0 0 0 1520.50 813.00 Z" fill="#13841a"/>
<path d="M1573.45 718.51 L1556.64 695.37" stroke="#d3261f" stroke-width="4.4"/>
<path d="M1492.10 813.00 A150 150 0 0 1 1792.10 813.00 L1754.50 813.00 A112.4 112.4 0 0 0 1529.70 813.00 Z" fill="none" stroke="#505050" stroke-width="1.1"/>
<path d="M1642.10 663.00 L1642.10 657.50" stroke="#444" stroke-width="1"/>
<text x="1634.49" y="652.70" font-size="12.00" fill="#454545" textLength="15.51" lengthAdjust="spacingAndGlyphs">50</text>
<text x="1596.35" y="631.70" font-size="20.00" fill="#454545" textLength="90.48" lengthAdjust="spacingAndGlyphs">Humidity</text>
<text x="1588.51" y="775.10" font-size="49.16" fill="#454545">50.2</text>
<path d="M1615.40 802.40 L1623.00 787.10 L1630.60 802.40Z" fill="#3f9873"/>
<text x="1634.57" y="802.40" font-size="25.01" fill="#4a9a7c">0.2</text>
</svg>
<svg id="gauge-pressure" style="left:0;top:0" width="1920" height="1080" viewBox="0 0 1920 1080">
<path d="M1492.10 1062.90 A150 150 0 0 1 1792.10 1062.90 L1754.50 1062.90 A112.4 112.4 0 0 0 1529.70 1062.90 Z" fill="#e9e9e9"/>
<path d="M1492.10 1062.90 A150 150 0 0 1 1543.87 949.54 L1568.49 977.95 A112.4 112.4 0 0 0 1529.70 1062.90 Z" fill="#cbcbcc"/>
<path d="M1543.87 949.54 A150 150 0 0 1 1704.41 926.46 L1688.79 960.66 A112.4 112.4 0 0 0 1568.49 977.95 Z" fill="#818181"/>
<path d="M1501.70 1062.90 A140.4 140.4 0 0 1 1777.15 1024.50 L1759.06 1029.64 A121.6 121.6 0 0 0 1520.50 1062.90 Z" fill="#13841a"/>
<path d="M1525.73 1052.90 L1497.23 1050.46" stroke="#d3261f" stroke-width="4.4"/>
<path d="M1492.10 1062.90 A150 150 0 0 1 1792.10 1062.90 L1754.50 1062.90 A112.4 112.4 0 0 0 1529.70 1062.90 Z" fill="none" stroke="#505050" stroke-width="1.1"/>
<path d="M1620.75 914.43 L1619.97 908.98" stroke="#444" stroke-width="1"/>
<text x="1597.00" y="904.80" font-size="12.00" fill="#454545" textLength="23.00" lengthAdjust="spacingAndGlyphs">500</text>
<path d="M1786.02 1020.64 L1791.30 1019.09" stroke="#444" stroke-width="1"/>
<text x="1598.41" y="883.75" font-size="20.00" fill="#454545" textLength="87.27" lengthAdjust="spacingAndGlyphs">Pressure</text>
<text x="1585.03" y="1026.00" font-size="45.34" fill="#454545">1003</text>
<path d="M1613.10 1052.60 L1620.60 1038.10 L1628.10 1052.60Z" fill="#3f9873"/>
<text x="1631.76" y="1052.60" font-size="22.65" fill="#4a9a7c">253</text>
</svg></section>
<div id="scrollbar"><div style="position:absolute;left:1904px;top:71px;width:16px;height:1009px;background:#dcdcdc"></div>
<div style="position:absolute;left:1905px;top:88px;width:13px;height:747px;background:#b0b0b0"></div>
<svg style="left:1907.5px;top:77px" width="8" height="5" viewBox="0 0 8 5"><path d="M0 5 L4 0.5 L8 5Z" fill="#9a9a9a"/></svg>
<svg style="left:1907.5px;top:1066.5px" width="8" height="4.5" viewBox="0 0 8 4.5"><path d="M0 0 L4 4.5 L8 0Z" fill="#4a4a4a"/></svg>
<div style="position:absolute;left:0px;top:1078.4px;width:1920px;height:1.6px;background:#cdcdcd"></div>
<div style="position:absolute;left:0px;top:1078.4px;width:48px;height:1.6px;background:#f1d9db"></div>
<div style="position:absolute;left:48px;top:1079px;width:342px;height:1px;background:#ececec"></div>
<div style="position:absolute;left:590px;top:1078.4px;width:46px;height:1.6px;background:#e4e4e4"></div>
<div style="position:absolute;left:240px;top:71px;width:1.3px;height:1009px;background:#f0c6ca"></div></div>
</body>
</html>
